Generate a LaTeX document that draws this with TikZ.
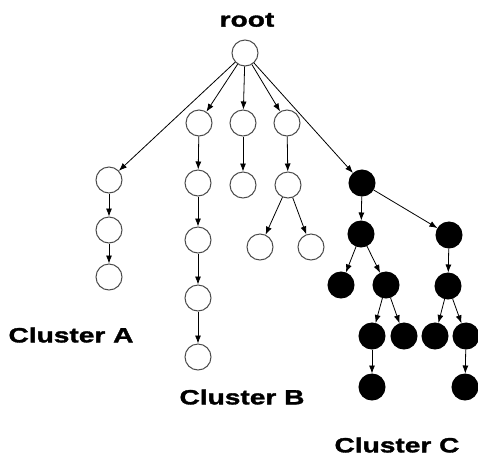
\documentclass[tikz,border=0pt]{standalone}
\usepackage{fontspec}
\usetikzlibrary{arrows.meta}
\newfontfamily\clusterfont{Liberation Sans}[FakeStretch=1.36, BoldFeatures={FakeBold=1.6}]

\tikzset{every picture/.style={line width=0.75pt},
  hollow/.style={circle, draw=black!70, fill=white, minimum size=19.5pt, inner sep=0pt},
  solid/.style={circle, draw, fill=black, minimum size=19.5pt, inner sep=0pt},
  link/.style={-{Latex[length=6pt,width=4.5pt]}, line width=0.6pt},
  tag/.style={inner sep=0.75pt, font=\clusterfont\bfseries\fontsize{15.5}{17}\selectfont}}

\begin{document}
\begin{tikzpicture}[x=0.75pt,y=0.75pt,yscale=-1,xscale=1]
\useasboundingbox (0,0) rectangle (478,458);

%Root
\node [hollow] (root) at (245,53) {};
\node [tag] (rootlbl) at (247,20) {root};

%Cluster A
\node [hollow] (a1) at (109,180) {};
\node [hollow] (a2) at (109,230) {};
\node [hollow] (a3) at (109,277) {};

%Cluster B
\node [hollow] (b1) at (199,123) {};
\node [hollow] (b2) at (198,183) {};
\node [hollow] (b3) at (198,240) {};
\node [hollow] (b4) at (198,298) {};
\node [hollow] (b5) at (198,357) {};

%Middle branches
\node [hollow] (m1) at (243,123) {};
\node [hollow] (m2) at (243,185) {};
\node [hollow] (n1) at (287,123) {};
\node [hollow] (n2) at (288,185) {};
\node [hollow] (n3) at (260,247) {};
\node [hollow] (n4) at (311,247) {};

%Cluster C
\node [solid] (c1) at (362,183) {};
\node [solid] (c2) at (361,234) {};
\node [solid] (c3) at (449,235) {};
\node [solid] (c4) at (341,285) {};
\node [solid] (c5) at (386,285) {};
\node [solid] (c6) at (448,286) {};
\node [solid] (c7) at (372,336) {};
\node [solid] (c8) at (404,336) {};
\node [solid] (c9) at (435,336) {};
\node [solid] (c10) at (466,336) {};
\node [solid] (c11) at (372,387) {};
\node [solid] (c12) at (465,387) {};

%Edges
\draw [link] (root) -- (a1);
\draw [link] (root) -- (b1);
\draw [link] (root) -- (m1);
\draw [link] (root) -- (n1);
\draw [link] (root) -- (c1);
\draw [link] (a1) -- (a2);
\draw [link] (a2) -- (a3);
\draw [link] (b1) -- (b2);
\draw [link] (b2) -- (b3);
\draw [link] (b3) -- (b4);
\draw [link] (b4) -- (b5);
\draw [link] (m1) -- (m2);
\draw [link] (n1) -- (n2);
\draw [link] (n2) -- (n3);
\draw [link] (n2) -- (n4);
\draw [link] (c1) -- (c2);
\draw [link] (c1) -- (c3);
\draw [link] (c2) -- (c4);
\draw [link] (c2) -- (c5);
\draw [link] (c3) -- (c6);
\draw [link] (c5) -- (c7);
\draw [link] (c5) -- (c8);
\draw [link] (c6) -- (c9);
\draw [link] (c6) -- (c10);
\draw [link] (c7) -- (c11);
\draw [link] (c10) -- (c12);

% Text Node
\node [tag] (lblA) at (71,335) {Cluster A};
% Text Node
\node [tag] (lblB) at (242,397) {Cluster B};
% Text Node
\node [tag] (lblC) at (397,445) {Cluster C};

\end{tikzpicture}
\end{document}
